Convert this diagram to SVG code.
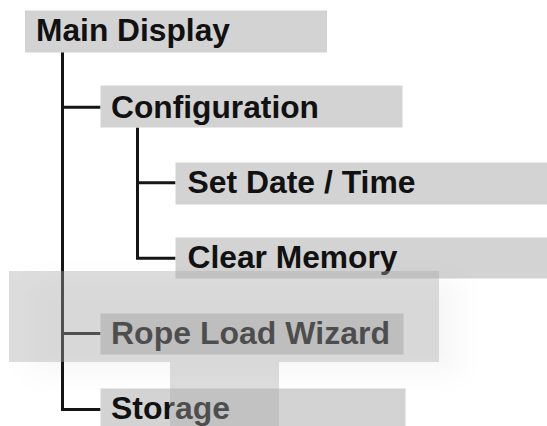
<svg xmlns="http://www.w3.org/2000/svg" width="547" height="426" viewBox="0 0 547 426">
  <style>
    .box { fill: #d3d3d3; }
    .lbl { font-family: "Liberation Sans", Arial, sans-serif; font-weight: bold; font-size: 30.5px; fill: #111; }
    .wire { stroke: #151515; stroke-width: 3; fill: none; }
    .veil { fill: #a9a9a9; fill-opacity: 0.4; }
  </style>
  <defs>
    <filter id="soft" x="-20%" y="-20%" width="140%" height="140%">
      <feGaussianBlur stdDeviation="12"/>
    </filter>
  </defs>
  <rect width="547" height="426" fill="#ffffff"/>

  <g id="connectors">
    <path class="wire" d="M62.5 52 V409.5 H100.5 M62.5 107.3 H100.5 M62.5 333.5 H100.5"/>
    <path class="wire" d="M137.5 127.5 V258.3 H175.5 M137.5 182.7 H175.5"/>
  </g>

  <g id="main-display">
    <rect class="box" x="25" y="10.5" width="302" height="42"/>
    <text class="lbl" x="36" y="41" textLength="194" lengthAdjust="spacingAndGlyphs">Main Display</text>
  </g>
  <g id="configuration">
    <rect class="box" x="100.5" y="85.5" width="302" height="42"/>
    <text class="lbl" x="111" y="117.5" textLength="208" lengthAdjust="spacingAndGlyphs">Configuration</text>
  </g>
  <g id="set-date-time">
    <rect class="box" x="175.5" y="162.5" width="372" height="42"/>
    <text class="lbl" x="187.5" y="193" textLength="228" lengthAdjust="spacingAndGlyphs">Set Date / Time</text>
  </g>
  <g id="clear-memory">
    <rect class="box" x="175.5" y="237.5" width="372" height="41"/>
    <text class="lbl" x="187.5" y="268" textLength="210" lengthAdjust="spacingAndGlyphs">Clear Memory</text>
  </g>
  <g id="rope-load-wizard">
    <rect class="box" x="100.5" y="313.5" width="303" height="41"/>
    <text class="lbl" x="111" y="343.5" textLength="279" lengthAdjust="spacingAndGlyphs">Rope Load Wizard</text>
  </g>
  <g id="storage">
    <rect class="box" x="100.5" y="388.5" width="305" height="40"/>
    <text class="lbl" x="111" y="418.5" textLength="119" lengthAdjust="spacingAndGlyphs">Storage</text>
  </g>

  <g id="overlays">
    <rect x="30" y="280" width="430" height="95" fill="#000" fill-opacity="0.03" filter="url(#soft)"/>
    <rect class="veil" x="9" y="271" width="430" height="91"/>
    <rect class="veil" x="170" y="362" width="109" height="64"/>
  </g>
</svg>
